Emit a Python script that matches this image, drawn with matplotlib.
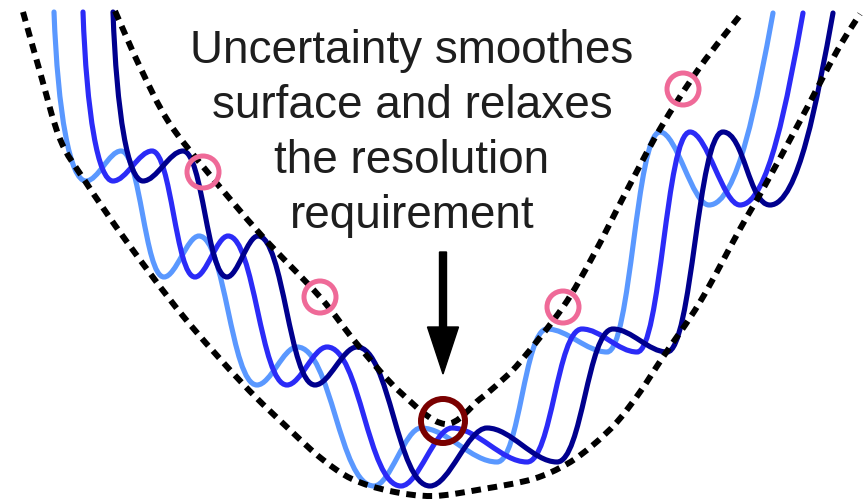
import matplotlib
matplotlib.use("Agg")
import matplotlib.pyplot as plt
from matplotlib.path import Path
from matplotlib.patches import PathPatch, Circle

# the three rippled curves: start, alternating minima / maxima, end (pixel units)
wave_y = [13, 182, 152, 278, 237, 386, 348, 487, 429, 463, 330, 353, 133, 206, 14]
light_x = [54, 86, 121, 164, 199, 257, 297, 374, 421, 497, 547, 607, 660, 709, 773]
blue_x = [83, 113, 152, 195, 228, 287, 327, 401, 452, 527, 582, 637, 690, 740, 803]
navy_x = [113, 143, 183, 227, 258, 315, 357, 430, 487, 557, 613, 667, 723, 770, 833]
wave_colors = ["#5A98FF", "#2B2BF7", "#00008E"]

# dashed envelopes
upper_x = [115, 140, 168, 205, 262, 320, 357, 400, 445, 480, 500, 520, 563, 593, 625, 660, 700, 742]
upper_y = [12, 68, 122, 170, 237, 298, 345, 393, 425, 400, 383, 363, 308, 257, 195, 130, 68, 14]
lower_x = [23, 40, 60, 85, 127, 183, 243, 290, 322, 352, 390, 433, 483, 533, 567, 593, 617,
           640, 663, 700, 740, 763, 800, 837, 860]
lower_y = [13, 73, 140, 182, 243, 317, 385, 431, 460, 480, 492, 497, 490, 480, 465, 446, 423,
           393, 358, 303, 230, 190, 122, 52, 15]

# marked points on the upper envelope
pink_x = [203, 320, 563, 683]
pink_y = [173, 298, 308, 90]
min_x, min_y = 443, 422

label_lines = ["Uncertainty smoothes", "surface and relaxes", "the resolution", "requirement"]


def wave_path(xs, ys):
    verts = [(xs[0], ys[0])]
    codes = [Path.MOVETO]
    n = len(xs)
    for i in range(n - 1):
        x0, y0, x3, y3 = xs[i], ys[i], xs[i + 1], ys[i + 1]
        dx, dy = x3 - x0, y3 - y0
        if i == 0:
            c1 = (x0 + 0.12 * dx, y0 + 0.6 * dy)
            c2 = (x3 - 0.5 * dx, y3)
        elif i == n - 2:
            c1 = (x0 + 0.45 * dx, y0)
            c2 = (x3 - 0.25 * dx, y3 - 0.45 * dy)
        else:
            k = 0.45 if abs(dy) > 1.5 * dx else 0.34
            c1 = (x0 + k * dx, y0)
            c2 = (x3 - k * dx, y3)
        verts += [c1, c2, (x3, y3)]
        codes += [Path.CURVE4] * 3
    return Path(verts, codes)


def smooth_path(xs, ys):
    # catmull-rom through the read points
    pts = list(zip(xs, ys))
    pts = [pts[0]] + pts + [pts[-1]]
    verts = [pts[1]]
    codes = [Path.MOVETO]
    for i in range(1, len(pts) - 2):
        p0, p1, p2, p3 = pts[i - 1], pts[i], pts[i + 1], pts[i + 2]
        c1 = (p1[0] + (p2[0] - p0[0]) / 6, p1[1] + (p2[1] - p0[1]) / 6)
        c2 = (p2[0] - (p3[0] - p1[0]) / 6, p2[1] - (p3[1] - p1[1]) / 6)
        verts += [c1, c2, p2]
        codes += [Path.CURVE4] * 3
    return Path(verts, codes)


fig = plt.figure(figsize=(8.68, 5.02), dpi=100)
ax = fig.add_axes([0, 0, 1, 1])
ax.set_xlim(0, 868)
ax.set_ylim(502, 0)
ax.axis("off")

for xs, c in zip([light_x, blue_x, navy_x], wave_colors):
    ax.add_patch(PathPatch(wave_path(xs, wave_y), fill=False, ec=c, lw=3.7, capstyle="round"))

for xs, ys in [(upper_x, upper_y), (lower_x, lower_y)]:
    ax.add_patch(PathPatch(smooth_path(xs, ys), fill=False, ec="black", lw=4.3,
                           ls=(0, (1.6, 1.15))))

for x, y in zip(pink_x, pink_y):
    ax.add_patch(Circle((x, y), 16, fill=False, ec="#EF6A98", lw=3.6))
ax.add_patch(Circle((min_x, min_y), 22, fill=False, ec="#7A0000", lw=4.3))

# arrow pointing at the smoothed minimum
ax.arrow(min_x, 253, 0, 122, width=7, head_width=31, head_length=47,
         length_includes_head=True, color="black")

for i, line in enumerate(label_lines):
    ax.text(412, 63 + i * 55, line, ha="center", va="baseline",
            fontsize=33, family="Liberation Sans", color="#1E1E1E")

fig.savefig("out.png", dpi=100)
